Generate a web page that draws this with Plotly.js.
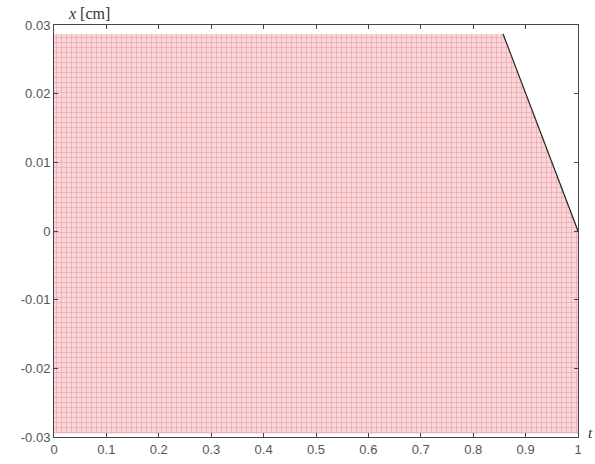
<!DOCTYPE html>
<html><head><meta charset="utf-8">
<script src="https://cdn.plot.ly/plotly-3.0.1.min.js"></script>
<style>body{margin:0;background:#fff}#c{width:595px;height:464px}</style>
</head><body><div id="c"></div>
<script>
// Region boundary (filled with dense red mesh)
var regionX = [0, 0.857, 1, 1, 0, 0];
var regionY = [0.0287, 0.0287, 0, -0.0295, -0.0295, 0.0287];
// Black boundary segment
var edgeX = [0.857, 1];
var edgeY = [0.0287, 0];
var xTicks = [0, 0.1, 0.2, 0.3, 0.4, 0.5, 0.6, 0.7, 0.8, 0.9, 1];
var xTickText = ['0','0.1','0.2','0.3','0.4','0.5','0.6','0.7','0.8','0.9','1'];
var yTicks = [-0.03, -0.02, -0.01, 0, 0.01, 0.02, 0.03];
var yTickText = ['-0.03','-0.02','-0.01','0','0.01','0.02','0.03'];

var traces = [
  {x: regionX, y: regionY, type: 'scatter', mode: 'lines', fill: 'toself',
   line: {width: 0, color: 'rgba(0,0,0,0)'},
   fillcolor: '#f6c4c8',
   fillpattern: {shape: '+', size: 5, solidity: 0.25, fgcolor: '#eaa3aa', bgcolor: '#fad6d9'},
   hoverinfo: 'skip'},
  {x: edgeX, y: edgeY, type: 'scatter', mode: 'lines', line: {color: '#222', width: 1.2}}
];
var axisCommon = {showgrid: false, zeroline: false, showline: true, linecolor: '#444', linewidth: 1,
  mirror: 'ticks', ticks: 'inside', ticklen: 4, tickcolor: '#444',
  tickfont: {family: 'Liberation Sans', size: 13, color: '#555'}};
var layout = {
  width: 595, height: 464, showlegend: false,
  font: {family: 'Liberation Sans'},
  margin: {l: 54, r: 17, t: 25, b: 27},
  paper_bgcolor: '#fff', plot_bgcolor: '#fff',
  xaxis: Object.assign({}, axisCommon, {range: [0, 1], tickvals: xTicks, ticktext: xTickText}),
  yaxis: Object.assign({}, axisCommon, {range: [-0.03, 0.03], tickvals: yTicks, ticktext: yTickText}),
  annotations: [
    {text: '<i>x</i> [cm]', xref: 'paper', yref: 'paper', x: 0.022, y: 1.002, xanchor: 'left', yanchor: 'bottom',
     showarrow: false, font: {family: 'Liberation Serif', size: 16, color: '#333'}},
    {text: '<i>t</i>', xref: 'paper', yref: 'paper', x: 1.016, y: 0.01, xanchor: 'left', yanchor: 'middle',
     showarrow: false, font: {family: 'Liberation Serif', size: 15, color: '#333'}}
  ]
};
Plotly.newPlot('c', traces, layout, {displayModeBar: false, staticPlot: true});
</script></body></html>
